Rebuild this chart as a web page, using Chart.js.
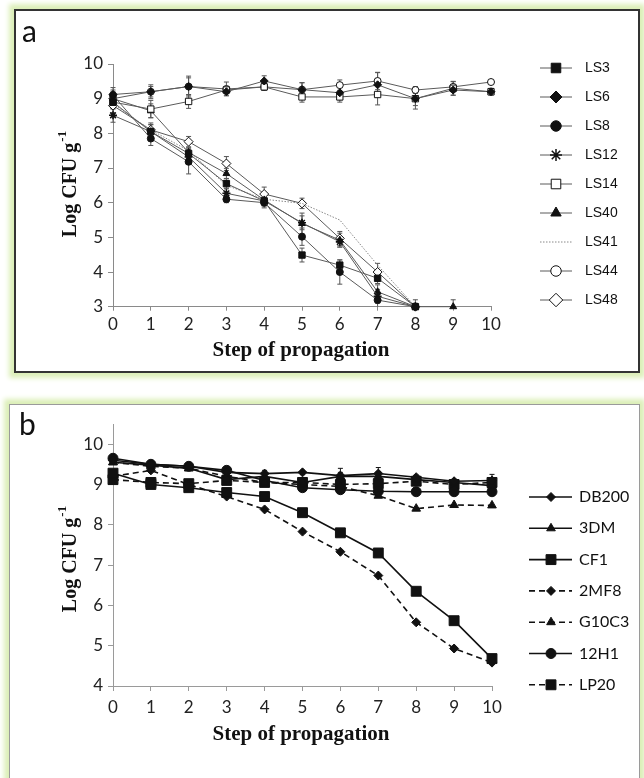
<!DOCTYPE html>
<html>
<head>
<meta charset="utf-8">
<script src="https://cdn.jsdelivr.net/npm/chart.js"></script>
<style>
  html, body { margin:0; padding:0; background:#fff; width:644px; height:778px; overflow:hidden; }
  .panel { position:absolute; box-sizing:border-box; background:#fff; box-shadow:0 0 5px 5px #dcefb8; }
  #panelA { left:14px; top:9px; width:626px; height:364px; border:2px solid #333; }
  #panelB { left:9px; top:404px; width:631px; height:380px; border:1px solid #9a9a9a; }
  canvas { position:absolute; left:0; }
  #chartA { top:0; width:644px; height:385px; }
  #chartB { top:390px; width:644px; height:388px; }
</style>
</head>
<body>
<div class="panel" id="panelA"></div>
<div class="panel" id="panelB"></div>
<canvas id="chartA" width="644" height="385"></canvas>
<canvas id="chartB" width="644" height="388"></canvas>
<script>
const steps = ['0', '1', '2', '3', '4', '5', '6', '7', '8', '9', '10'];

// panel a: Log CFU g-1 per step
const ls3  = [8.90, 8.05, 7.42, 6.55, 6.05, 4.49, 4.20, 3.82, 3.00];
const ls6  = [9.12, 9.20, 9.35, 9.20, 9.51, 9.26, 9.17, 9.40, 9.00, 9.25, 9.20];
const ls8  = [9.10, 7.85, 7.18, 6.10, 6.00, 5.02, 4.00, 3.19, 3.00];
const ls12 = [8.52, 8.05, 7.32, 6.27, 6.05, 5.42, 4.87, 3.30, 3.00];
const ls14 = [8.90, 8.70, 8.92, 9.25, 9.34, 9.05, 9.05, 9.12, 9.00, 9.30, 9.20];
const ls40 = [9.00, 8.65, 7.45, 6.84, 6.08, 5.40, 4.92, 3.43, 3.00, 3.00];
const ls41 = [8.85, 8.10, 7.50, 6.50, 6.10, 5.98, 5.50, 4.20, 3.00];
const ls44 = [9.00, 9.20, 9.35, 9.28, 9.34, 9.26, 9.39, 9.51, 9.25, 9.34, 9.48];
const ls48 = [8.80, 8.10, 7.76, 7.13, 6.25, 5.98, 4.97, 4.00, 3.00];

// panel a: standard deviations
const errLs3  = [0.15, 0.20, 0.15, 0.15, 0.10, 0.20, 0.15, 0.15, 0.10];
const errLs6  = [0.20, 0.15, 0.25, 0.10, 0.15, 0.20, 0.20, 0.35, 0.20, 0.15, 0.10];
const errLs8  = [0.15, 0.20, 0.35, 0.10, 0.15, 0.25, 0.35, 0.20, 0];
const errLs12 = [0.20, 0.20, 0.20, 0.15, 0.15, 0.20, 0.15, 0.20, 0];
const errLs14 = [0.20, 0.25, 0.20, 0.10, 0.10, 0.15, 0.15, 0.30, 0.30, 0.20, 0.05];
const errLs40 = [0.15, 0.20, 0.15, 0.15, 0.15, 0.30, 0.20, 0.20, 0, 0.20];
const errLs44 = [0.20, 0.20, 0.30, 0.20, 0.10, 0.20, 0.15, 0.25, 0.10, 0.15, 0.05];
const errLs48 = [0.20, 0.20, 0.15, 0.20, 0.20, 0.15, 0.20, 0.25, 0.20];

// panel b
const db200 = [9.60, 9.50, 9.45, 9.30, 9.27, 9.30, 9.22, 9.27, 9.18, 9.08, 9.10];
const dm3   = [9.55, 9.48, 9.40, 9.12, 9.20, 9.05, 9.20, 9.20, 9.12, 9.05, 8.97];
const cf1   = [9.28, 9.00, 8.92, 8.80, 8.70, 8.30, 7.80, 7.30, 6.35, 5.62, 4.68];
const mf8   = [9.20, 9.35, 9.00, 8.70, 8.38, 7.83, 7.33, 6.74, 5.58, 4.93, 4.58];
const g10c3 = [9.55, 9.45, 9.40, 9.20, 9.05, 9.00, 8.95, 8.72, 8.40, 8.49, 8.48];
const h12   = [9.65, 9.50, 9.45, 9.35, 9.10, 8.92, 8.87, 8.83, 8.82, 8.82, 8.82];
const lp20  = [9.12, 9.05, 9.02, 9.10, 9.05, 9.05, 9.00, 9.02, 9.08, 9.00, 9.05];

const errDb200 = [0, 0, 0, 0, 0.08, 0.05, 0.18, 0.15, 0.05, 0.05, 0.15];
const errDm3   = [0, 0, 0, 0, 0.06, 0, 0.10, 0.12, 0, 0, 0.08];

function serA(label, data, errors, style, open, r) {
  return {
    label, data, errors,
    borderColor: '#5a5a5a', borderWidth: 1,
    pointStyle: style, pointRadius: r, pointBorderWidth: style === 'star' ? 1.5 : 1,
    pointBackgroundColor: open ? '#fff' : '#111', pointBorderColor: '#111',
    clip: false
  };
}

function serB(label, data, errors, style, dashed, r) {
  return {
    label, data, errors,
    borderColor: '#111', borderWidth: 1.6, borderDash: dashed ? [6, 4] : [],
    pointStyle: style, pointRadius: r, pointBorderWidth: 1,
    pointBackgroundColor: '#111', pointBorderColor: '#111',
    clip: false
  };
}

const dotted = Object.assign(serA('LS41', ls41, null, false, false, 0),
  { borderColor: '#888', borderDash: [1.5, 1.5] });

const datasetsA = [
  serA('LS3', ls3, errLs3, 'rect', false, 4.5),
  serA('LS6', ls6, errLs6, 'rectRot', false, 4),
  serA('LS8', ls8, errLs8, 'circle', false, 3.5),
  serA('LS12', ls12, errLs12, 'star', false, 4),
  serA('LS14', ls14, errLs14, 'rect', true, 4.5),
  serA('LS40', ls40, errLs40, 'triangle', false, 4),
  dotted,
  serA('LS44', ls44, errLs44, 'circle', true, 3.5),
  serA('LS48', ls48, errLs48, 'rectRot', true, 4.5)
];

const datasetsB = [
  serB('DB200', db200, errDb200, 'rectRot', false, 4.5),
  serB('3DM', dm3, errDm3, 'triangle', false, 5),
  serB('CF1', cf1, null, 'rect', false, 7),
  serB('2MF8', mf8, null, 'rectRot', true, 4.5),
  serB('G10C3', g10c3, null, 'triangle', true, 5),
  serB('12H1', h12, null, 'circle', false, 5),
  serB('LP20', lp20, null, 'rect', true, 7)
];

function drawMarker(ctx, ds, x, y, k) {
  if (!ds.pointStyle || !ds.pointRadius) return;
  ctx.save();
  ctx.setLineDash([]);
  ctx.fillStyle = ds.pointBackgroundColor;
  ctx.strokeStyle = ds.pointBorderColor;
  ctx.lineWidth = ds.pointBorderWidth;
  Chart.helpers.drawPoint(ctx, {
    pointStyle: ds.pointStyle, radius: ds.pointRadius * k,
    rotation: 0, borderWidth: ds.pointBorderWidth
  }, x, y);
  ctx.restore();
}

const decor = {
  id: 'decor',
  beforeDatasetsDraw(chart, args, o) {
    const ctx = chart.ctx, ys = chart.scales.y, area = chart.chartArea;
    ctx.save();
    ctx.strokeStyle = o.errColor;
    ctx.lineWidth = 1;
    chart.data.datasets.forEach((ds, di) => {
      if (!ds.errors) return;
      const meta = chart.getDatasetMeta(di);
      ds.errors.forEach((e, i) => {
        const v = ds.data[i];
        if (v == null || !e) return;
        const x = meta.data[i].x;
        const top = Math.max(area.top, ys.getPixelForValue(v + e));
        const bot = Math.min(area.bottom, ys.getPixelForValue(v - e));
        ctx.beginPath();
        ctx.moveTo(x, top); ctx.lineTo(x, bot);
        ctx.moveTo(x - 2.5, top); ctx.lineTo(x + 2.5, top);
        if (bot < area.bottom) { ctx.moveTo(x - 2.5, bot); ctx.lineTo(x + 2.5, bot); }
        ctx.stroke();
      });
    });
    ctx.restore();
  },
  afterDraw(chart, args, o) {
    const ctx = chart.ctx;
    ctx.save();
    ctx.fillStyle = '#111';

    // panel letter
    ctx.font = '30px Lato';
    ctx.textBaseline = 'alphabetic';
    ctx.fillText(o.letter, o.letterX, o.letterY);

    // x title
    ctx.font = 'bold 21px "Liberation Serif"';
    ctx.textAlign = 'center';
    ctx.textBaseline = 'middle';
    ctx.fillText('Step of propagation', o.xTitleX, o.xTitleY);

    // y title with superscript
    ctx.save();
    ctx.translate(o.yTitleX, o.yTitleY);
    ctx.rotate(-Math.PI / 2);
    ctx.textAlign = 'left';
    ctx.textBaseline = 'alphabetic';
    ctx.font = 'bold 20px "Liberation Serif"';
    const wMain = ctx.measureText('Log CFU g').width;
    ctx.font = 'bold 13px "Liberation Serif"';
    const wSup = ctx.measureText('-1').width;
    const x0 = -(wMain + wSup + 1) / 2;
    ctx.font = 'bold 20px "Liberation Serif"';
    ctx.fillText('Log CFU g', x0, 7);
    ctx.font = 'bold 13px "Liberation Serif"';
    ctx.fillText('-1', x0 + wMain + 1, -3);
    ctx.restore();

    // legend
    const L = o.legend;
    chart.data.datasets.forEach((ds, i) => {
      const y = L.y0 + i * L.dy;
      ctx.save();
      ctx.strokeStyle = ds.borderColor;
      ctx.lineWidth = ds.borderWidth;
      ctx.setLineDash(ds.borderDash || []);
      ctx.beginPath();
      ctx.moveTo(L.x1, y); ctx.lineTo(L.x2, y);
      ctx.stroke();
      ctx.restore();
      drawMarker(ctx, ds, L.xm, y, L.k);
      ctx.font = L.font;
      ctx.textAlign = 'left';
      ctx.textBaseline = 'middle';
      ctx.fillStyle = '#111';
      ctx.fillText(ds.label, L.xt, y);
    });
    ctx.restore();
  }
};

function buildOptions(c) {
  return {
    responsive: false,
    animation: false,
    events: [],
    layout: { padding: { left: 0, top: c.top, right: c.right, bottom: 0 } },
    elements: { line: { tension: 0 } },
    scales: {
      x: {
        type: 'category',
        offset: false,
        grid: { display: true, drawOnChartArea: false, drawTicks: true, tickLength: c.xTick, color: c.axisColor },
        border: { display: true, color: c.axisColor, width: 1 },
        ticks: { color: '#222', font: { family: 'Lato', size: 17 }, padding: c.xPad, maxRotation: 0, autoSkip: false },
        afterFit: s => { s.height = c.xHeight; }
      },
      y: {
        min: c.min, max: c.max,
        grid: { display: true, drawOnChartArea: false, drawTicks: true, tickLength: 5, color: c.axisColor },
        border: { display: true, color: c.axisColor, width: 1 },
        ticks: { stepSize: 1, color: '#222', font: { family: 'Lato', size: 17 }, padding: 5 },
        afterBuildTicks: s => { s.ticks = s.ticks.filter(t => Number.isInteger(t.value)); },
        afterFit: s => { s.width = 113; }
      }
    },
    plugins: {
      legend: { display: false },
      tooltip: { enabled: false },
      decor: c.decor
    }
  };
}

new Chart(document.getElementById('chartA'), {
  type: 'line',
  data: { labels: steps, datasets: datasetsA },
  options: buildOptions({
    top: 64, right: 153, min: 3, max: 10, xTick: 4, xPad: 4, xHeight: 78.3, axisColor: '#8a8a8a',
    decor: {
      errColor: '#555', letter: 'a', letterX: 22, letterY: 42,
      xTitleX: 301, xTitleY: 351, yTitleX: 69, yTitleY: 184,
      legend: { x1: 540, x2: 572, xm: 556, xt: 585, y0: 68, dy: 29, k: 1.5, font: '14px "Liberation Sans"' }
    }
  }),
  plugins: [decor]
});

new Chart(document.getElementById('chartB'), {
  type: 'line',
  data: { labels: steps, datasets: datasetsB },
  options: buildOptions({
    top: 34, right: 152, min: 4, max: 10.5, xTick: 5, xPad: 6, xHeight: 92, axisColor: '#9a9a9a',
    decor: {
      errColor: '#111', letter: 'b', letterX: 19, letterY: 45,
      xTitleX: 301, xTitleY: 345, yTitleX: 69, yTitleY: 169,
      legend: { x1: 529, x2: 572, xm: 551, xt: 579, y0: 107, dy: 31.3, k: 1, font: '16px Lato' }
    }
  }),
  plugins: [decor]
});
</script>
</body>
</html>
